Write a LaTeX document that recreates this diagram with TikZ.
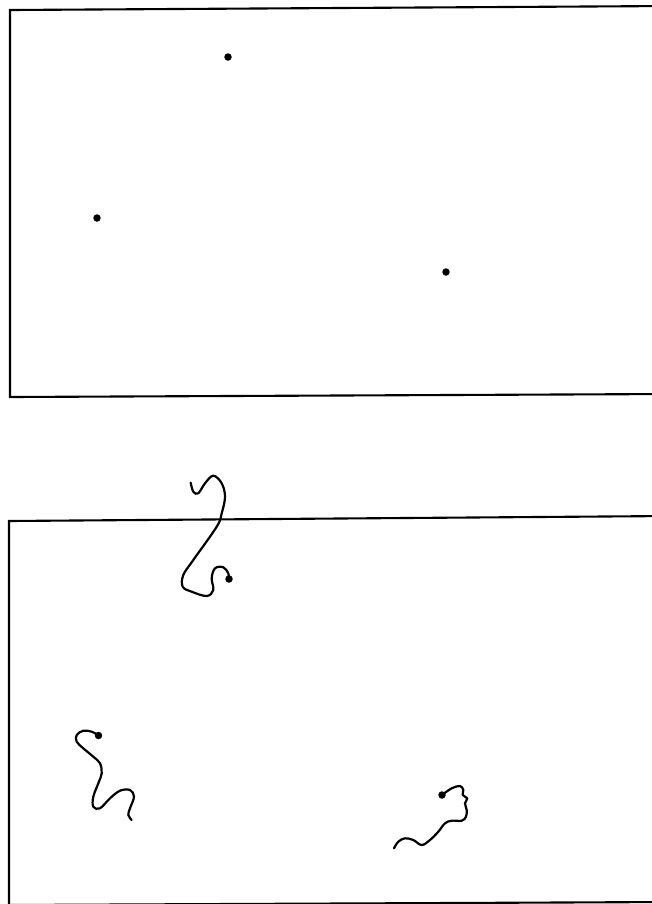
\documentclass[tikz,border=0pt]{standalone}
\begin{document}
\begin{tikzpicture}[x=0.02cm,y=-0.02cm,
  frame/.style={line width=1.2pt,line join=miter},
  dotpt/.style={circle,fill=black,inner sep=0pt,minimum size=0.15cm},
  squig/.style={line width=1.25pt,line cap=round,line join=round}]
\useasboundingbox (0,0) rectangle (652,904);
\clip (0,0) rectangle (652,904);
% top frame
\draw[frame] (670,6) -- (10,10) -- (10,397) -- (670,394);
% bottom frame
\draw[frame] (670,516) -- (9,521) -- (9,915);
\draw[frame] (9,905) -- (670,902);
% top dots
\node[dotpt] (a1) at (228,57) {};
\node[dotpt] (b1) at (97,218) {};
\node[dotpt] (c1) at (446,272) {};
% bottom dots
\node[dotpt] (a2) at (229,579) {};
\node[dotpt] (b2) at (98.5,735.5) {};
\node[dotpt] (c2) at (442,795) {};
% squiggles
\draw[squig] plot[smooth,tension=0.6] coordinates {(190.7,482.7) (193.3,491.7) (198.3,493.3) (205,483.3) (213.3,475.7) (221.7,483.3) (225,496.7) (221.7,513.3) (216.7,526.7) (193.3,560) (183.3,575) (182.7,586.7) (191.7,591.7) (206.7,596) (213.3,590) (211.7,578.3) (215,568.3) (223.3,567.3) (228.3,573.3) (229,579)};
\draw[squig] plot[smooth,tension=0.6] coordinates {(98.5,735.5) (91.7,731.7) (83.3,730.7) (76.7,735) (76.7,741.7) (83.3,748.3) (93.3,756.7) (100,763.3) (101.7,773.3) (98.3,783.3) (93.3,796.7) (93.3,806.7) (100,808.3) (110,798.3) (120,790.7) (130,790) (134,796.7) (130,808.3) (128.3,815) (131.7,820)};
\draw[squig] plot[smooth,tension=0.6] coordinates {(442,795) (451.7,788.3) (460,786) (463.3,790) (462.7,795) (467.3,798.3) (465,803.3) (466.7,810) (466,816.7) (461.7,820.7) (451.7,820.7) (445,823.3) (438.3,831.7) (430,840) (421.7,845) (413.3,840) (405,838.3) (398.3,841.7) (394,848.3)};
\end{tikzpicture}
\end{document}
